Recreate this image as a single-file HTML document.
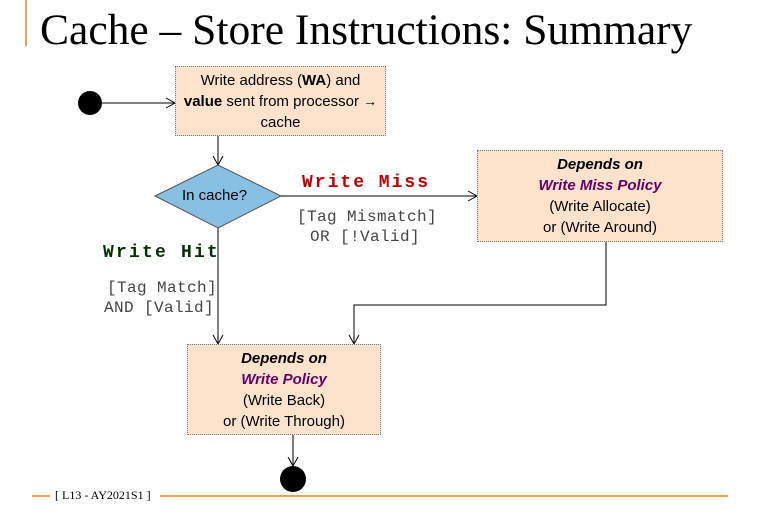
<!DOCTYPE html>
<html><head><meta charset="utf-8"><style>
body{margin:0;width:767px;height:517px;background:#fff;overflow:hidden;position:relative;font-family:"Liberation Sans",sans-serif}
.t{position:absolute;white-space:nowrap}
.box{position:absolute;background:#fde3cc;border:1px dotted #777;box-sizing:border-box;text-align:center;font-size:15px;line-height:21px;color:#000;display:flex;flex-direction:column;justify-content:center}
.mono{font-family:"Liberation Mono",monospace;font-size:16px;letter-spacing:0.4px}
.p{color:#660066;font-weight:bold;font-style:italic}
</style></head><body>
<div style="position:absolute;left:25px;top:0;width:2px;height:46px;background:#f0a050"></div>
<div class="t" style="left:40px;top:5px;font-family:'Liberation Serif',serif;font-size:43.5px;color:#000">Cache – Store Instructions: Summary</div>
<svg width="767" height="517" style="position:absolute;left:0;top:0">
<defs><marker id="a" markerWidth="12" markerHeight="12" refX="10" refY="6" orient="auto" markerUnits="userSpaceOnUse"><path d="M1,1 L10,6 L1,11" fill="none" stroke="#000" stroke-width="1"/></marker></defs>
<circle cx="90" cy="103" r="12" fill="#000"/>
<line x1="102" y1="103" x2="175" y2="103" stroke="#000" marker-end="url(#a)"/>
<line x1="218" y1="136" x2="218" y2="165" stroke="#000" marker-end="url(#a)"/>
<polygon points="155,196 218,165 281,196 218,228" fill="#88c0e4" stroke="#555"/>
<line x1="281" y1="196" x2="477" y2="196" stroke="#000" marker-end="url(#a)"/>
<line x1="218" y1="228" x2="218" y2="344" stroke="#000" marker-end="url(#a)"/>
<polyline points="606,242 606,305 354,305 354,344" fill="none" stroke="#000" marker-end="url(#a)"/>
<line x1="293" y1="435" x2="293" y2="466" stroke="#000" marker-end="url(#a)"/>
<circle cx="293" cy="479" r="13" fill="#000"/>
<line x1="32" y1="496" x2="50" y2="496" stroke="#f0a050" stroke-width="2"/>
<line x1="160" y1="496" x2="728" y2="496" stroke="#f0a050" stroke-width="2"/>
</svg>
<div class="box" style="left:175px;top:66px;width:211px;height:70px"><div>Write address (<b>WA</b>) and</div><div><b>value</b> sent from processor <b style="font-size:14px">→</b></div><div>cache</div></div>
<div class="t" style="left:182px;top:187px;font-size:15px">In cache?</div>
<div class="t mono" style="left:302px;top:173px;color:#c00000;font-weight:bold;font-size:18px;letter-spacing:2px">Write Miss</div>
<div class="t mono" style="left:297px;top:208px;color:#444">[Tag Mismatch]</div>
<div class="t mono" style="left:310px;top:228px;color:#444">OR [!Valid]</div>
<div class="box" style="left:477px;top:150px;width:246px;height:92px"><div style="font-weight:bold;font-style:italic">Depends on</div><div class="p">Write Miss Policy</div><div>(Write Allocate)</div><div>or (Write Around)</div></div>
<div class="t mono" style="left:103px;top:243px;color:#003300;font-weight:bold;font-size:18px;letter-spacing:2.2px">Write Hit</div>
<div class="t mono" style="left:107px;top:279px;color:#444">[Tag Match]</div>
<div class="t mono" style="left:104px;top:299px;color:#444">AND [Valid]</div>
<div class="box" style="left:187px;top:344px;width:194px;height:91px"><div style="font-weight:bold;font-style:italic">Depends on</div><div class="p">Write Policy</div><div>(Write Back)</div><div>or (Write Through)</div></div>
<div class="t" style="left:55px;top:488px;font-family:'Liberation Serif',serif;font-size:12px;color:#000">[ L13 - AY2021S1 ]</div>
</body></html>
